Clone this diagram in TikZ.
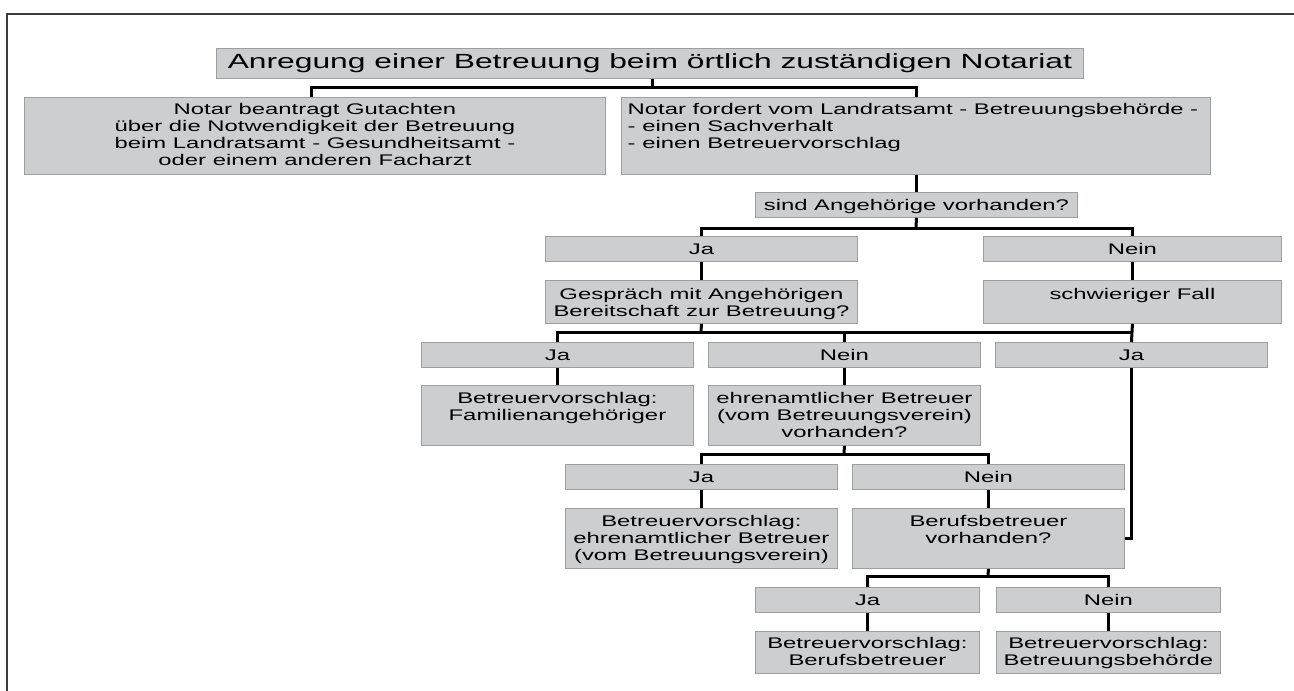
\documentclass[tikz,border=0pt]{standalone}
\usepackage{fontspec}
\newfontfamily\boxfont[FakeStretch=1.55]{Liberation Sans}
\definecolor{boxfill}{RGB}{205,206,208}
\definecolor{boxline}{RGB}{158,158,158}
\definecolor{framecol}{RGB}{60,60,60}
\newcommand\flowbx[7]{%
  \node[flowbox, minimum width={(#4-#2)*1pt}, minimum height={(#5-#3)*1pt}] (#1) at (#2,#3) {};
  \node[boxtext] (#1-t) at ([yshift=-#6pt]#1.north) {\parbox[t]{420pt}{\centering #7}};
}
\begin{document}
\begin{tikzpicture}[x=1pt,y=-1pt,
  flowbox/.style={draw=boxline, fill=boxfill, line width=0.9pt, inner sep=0pt, anchor=north west},
  boxtext/.style={inner sep=0pt, anchor=base, font=\boxfont\fontsize{15.4}{17}\selectfont},
  titletext/.style={inner sep=0pt, anchor=base, font=\boxfont\fontsize{20.5}{22}\selectfont},
  conn/.style={line width=3pt, black},
  frameline/.style={draw=framecol, line width=1.6pt}]
\useasboundingbox (0,0) rectangle (1294,691);
% frame
\draw[frameline] (7,691) -- (7,14) -- (1294,14);
% title
\node[flowbox, minimum width=867pt, minimum height=30pt] (T) at (216,48) {};
\node[titletext] (T-t) at ([yshift=-20.5pt]T.north) {Anregung einer Betreuung beim örtlich zuständigen Notariat};
% second row
\flowbx{L}{24}{97}{605}{174}{17.5}{Notar beantragt Gutachten\\über die Notwendigkeit der Betreuung\\beim Landratsamt - Gesundheitsamt -\\oder einem anderen Facharzt}
\node[flowbox, minimum width=589pt, minimum height=77pt] (R) at (621,97) {};
\node[boxtext, anchor=base west] (R-t) at ([xshift=6.5pt,yshift=-17.5pt]R.north west) {\parbox[t]{600pt}{\raggedright Notar fordert vom Landratsamt - Betreuungsbehörde -\\- einen Sachverhalt\\- einen Betreuervorschlag}};
% question
\flowbx{Q}{755}{192}{1077}{217}{18.7}{sind Angehörige vorhanden?}
\flowbx{J1}{545}{236}{857}{261}{18.3}{Ja}
\flowbx{N1}{983}{236}{1281}{261}{18.3}{Nein}
\flowbx{G}{545}{280}{857}{323}{19.2}{Gespräch mit Angehörigen\\Bereitschaft zur Betreuung?}
\flowbx{S}{983}{280}{1281}{323}{19.2}{schwieriger Fall}
\flowbx{J2}{421}{342}{693}{367}{18.3}{Ja}
\flowbx{N2}{708}{342}{980}{367}{18.3}{Nein}
\flowbx{J3}{995}{342}{1267}{367}{18.3}{Ja}
\flowbx{F}{421}{385}{693}{445}{18.5}{Betreuervorschlag:\\Familienangehöriger}
\flowbx{E}{708}{385}{980}{445}{18.5}{ehrenamtlicher Betreuer\\(vom Betreuungsverein)\\vorhanden?}
\flowbx{J4}{565}{464}{837}{489}{18.3}{Ja}
\flowbx{N4}{852}{464}{1124}{489}{18.3}{Nein}
\flowbx{BE}{565}{508}{837}{568}{18.3}{Betreuervorschlag:\\ehrenamtlicher Betreuer\\(vom Betreuungsverein)}
\flowbx{B}{852}{508}{1124}{568}{18.3}{Berufsbetreuer\\vorhanden?}
\flowbx{J5}{755}{587}{979}{612}{18.3}{Ja}
\flowbx{N5}{996}{587}{1220}{612}{18.3}{Nein}
\flowbx{BB}{755}{631}{979}{673}{17.5}{Betreuervorschlag:\\Berufsbetreuer}
\flowbx{BN}{996}{631}{1220}{673}{17.5}{Betreuervorschlag:\\Betreuungsbehörde}
% bus junctions
\coordinate (aT) at (652,87);
\coordinate (aL) at (311,87);
\coordinate (aR) at (916,87);
\coordinate (bB) at (916,228);
\coordinate (bC) at (701,332);
\coordinate (bD) at (844,454);
\coordinate (bE) at (988,576);
% connectors
\draw[conn] (T.south -| aT) -- (aT);
\draw[conn] (L.north -| aL) -- (aL) -- (aR) -- (R.north -| aR);
\draw[conn] (R.south -| Q.north) -- (Q.north);
\draw[conn] (Q.south) -- (bB);
\draw[conn] (J1.north) |- (bB) -| (N1.north);
\draw[conn] (J1.south) -- (G.north);
\draw[conn] (N1.south) -- (S.north);
\draw[conn] (G.south) -- (bC);
\draw[conn] (J2.north) |- (bC) -- (S.south |- bC);
\draw[conn] (N2.north) -- (N2.north |- bC);
\draw[conn] (S.south) -- (J3.north);
\draw[conn] (J3.south) |- (B.east);
\draw[conn] (J2.south) -- (F.north);
\draw[conn] (N2.south) -- (E.north);
\draw[conn] (E.south) -- (bD);
\draw[conn] (J4.north) |- (bD) -| (N4.north);
\draw[conn] (J4.south) -- (BE.north);
\draw[conn] (N4.south) -- (B.north);
\draw[conn] (B.south) -- (bE);
\draw[conn] (J5.north) |- (bE) -| (N5.north);
\draw[conn] (J5.south) -- (BB.north);
\draw[conn] (N5.south) -- (BN.north);
\end{tikzpicture}
\end{document}
